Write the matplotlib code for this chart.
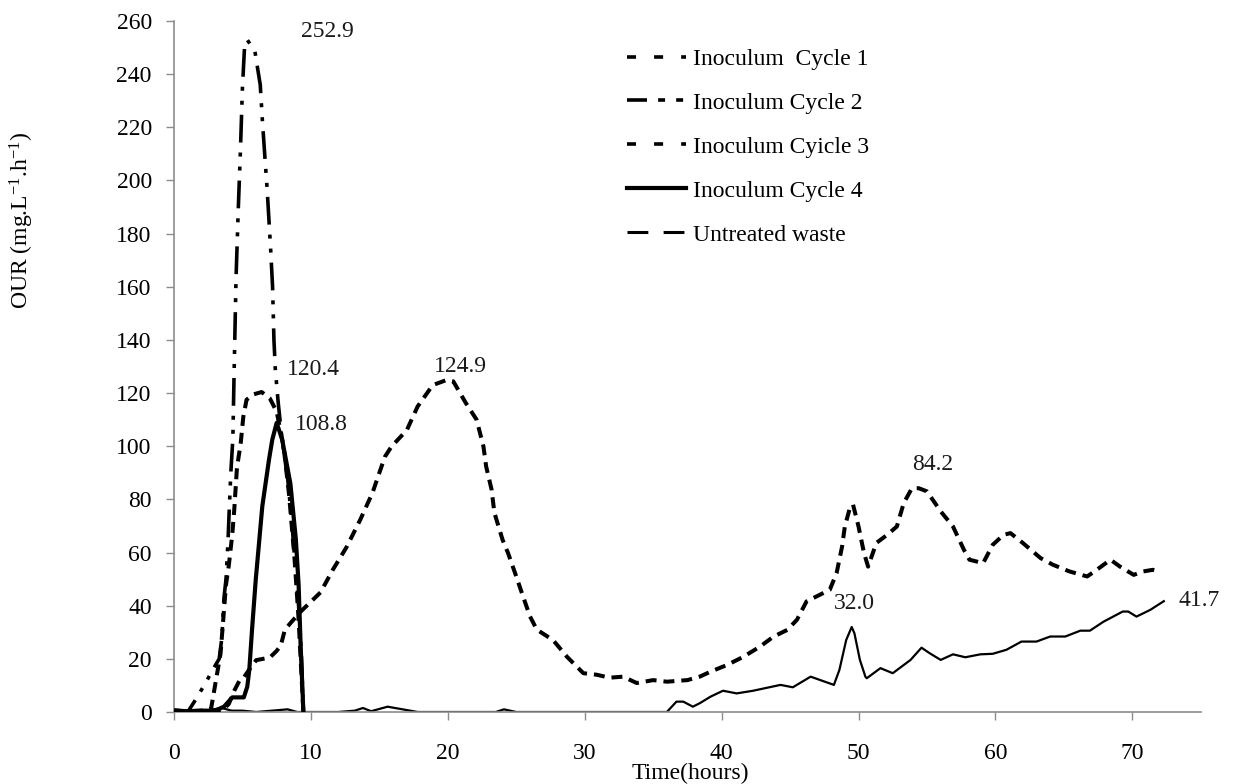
import matplotlib
matplotlib.use('Agg')
import matplotlib.pyplot as plt
from matplotlib.lines import Line2D

plt.rcParams['font.family'] = ['Liberation Serif', 'DejaVu Serif']
plt.rcParams['mathtext.fontset'] = 'custom'
plt.rcParams['mathtext.rm'] = 'Liberation Serif'
plt.rcParams['mathtext.it'] = 'Liberation Serif:italic'
plt.rcParams['lines.scale_dashes'] = False

# ---------------- data ----------------
c1_t = [0, 1.0, 2.0, 2.7, 3.0, 3.4, 3.6, 3.8, 4.0, 4.26, 4.4, 4.5, 4.6, 4.87, 5.06, 5.3,
        5.8, 6.4, 7.0, 7.5, 8.0, 8.4, 8.8, 9.1, 9.3, 9.45]
c1_y = [0.5, 0.3, 0.5, 1.0, 10, 22, 35, 48, 55, 67, 76, 84, 92, 101, 111, 117.5,
        119.5, 120.4, 118, 113, 100, 82, 58, 35, 15, 0]

c2_t = [0, 1.0, 1.5, 2.2, 2.9, 3.3, 3.5, 3.65, 3.8, 3.95, 4.05, 4.15, 4.3, 4.38, 4.53,
        4.7, 4.85, 5.0, 5.15, 5.35, 5.6, 5.9, 6.05, 6.3, 6.45, 6.65, 6.8, 7.05, 7.2,
        7.3, 7.4, 7.6, 7.9, 8.3, 8.6, 8.9, 9.1, 9.3, 9.45]
c2_y = [0.5, 0, 4, 10, 16.5, 20, 28, 43, 50, 65, 78, 90, 103, 125, 163,
        190, 211, 235, 250, 252.9, 251, 249, 244, 236, 223, 208, 197, 175, 160,
        140, 129, 117, 102, 88, 72, 52, 40, 22, 0]

c3_t = [0, 3.5, 4.0, 4.4, 4.8, 5.1, 5.5, 6.0, 6.5, 7.0, 7.5, 7.8, 8.1, 8.6, 9.2,
        10.7, 11.6, 12.6, 13.6, 14.5, 15.4, 15.9, 17.0, 17.8, 18.9, 19.9, 20.4,
        21.3, 22.1, 22.6, 22.8, 23.2, 23.4, 24.0, 24.4, 25.0, 25.5, 26.0, 26.5,
        27.7, 28.7, 29.9, 30.9, 31.8, 32.8, 33.8, 35.0, 36.0, 37.5, 38.4, 39.2,
        40.4, 41.6, 42.8, 43.8, 44.8, 45.5, 46.2, 46.9, 47.9, 48.4, 48.8, 49.0,
        49.4, 49.6, 50.0, 50.4, 50.7, 51.3, 52.1, 52.8, 53.3, 53.9, 54.4, 55.0,
        56.0, 56.9, 57.7, 58.1, 59.1, 59.8, 60.6, 61.1, 62.0, 63.3, 64.2, 65.4,
        66.7, 67.4, 68.4, 69.1, 70.1, 70.8, 71.5, 72.0]
c3_y = [0, 0.5, 3, 8, 12, 13, 16, 19.5, 20, 20.5, 23, 25, 31, 34, 37.5,
        45, 53.5, 62, 72.3, 82.5, 96, 100, 106, 115, 123, 124.9, 124.4,
        116.4, 110, 100, 92.4, 83.6, 75, 64.8, 59.8, 51, 43.4, 36, 31,
        27, 20.8, 14.6, 14, 12.9, 13.3, 10.9, 12, 11.4, 12, 13.3, 15.2,
        17.7, 20.8, 24.6, 28.4, 30.9, 34.7, 41.6, 43.4, 46, 52.3, 62.3, 69.8,
        77.4, 78, 69.8, 59.8, 54.7, 63.6, 66.7, 69.8, 78.6, 84.2, 84.2, 83,
        75.5, 69.8, 61, 57.3, 56, 62.9, 66.7, 67.3, 63.6, 57.9, 55.4, 52.9,
        51, 53.5, 57.3, 54.7, 51.6, 52.9, 53.5, 52.9]

c4_t = [0, 1.0, 2.0, 3.0, 3.65, 4.26, 5.1, 5.35, 5.5, 5.7, 5.97, 6.45, 6.94, 7.18,
        7.5, 7.9, 8.5, 8.9, 9.1, 9.25, 9.45]
c4_y = [0.5, 0.3, 0.5, 0.5, 2, 5.5, 5.5, 9.5, 15.8, 31, 49.7, 77.4, 95, 102.5,
        108.8, 102.5, 86, 65, 48, 25, 0]

uw_t = [0, 1.0, 2.0, 3.5, 4.2, 5.0, 6.0, 8.3, 9.0, 12.0, 13.2, 13.8, 14.4, 15.6,
        17.8, 23.5, 24.1, 25.0, 36.0, 36.7, 37.2, 37.9, 38.4, 39.2, 40.1, 41.1,
        42.3, 44.3, 45.2, 46.5, 48.2, 48.6, 49.1, 49.5, 49.7, 50.1, 50.5, 50.6,
        51.6, 52.5, 53.8, 54.6, 55.2, 56.0, 56.9, 57.8, 58.9, 59.8, 60.8, 61.9,
        63.0, 64.0, 65.1, 66.2, 66.9, 67.9, 69.3, 69.7, 70.3, 71.3, 72.3]
uw_y = [1.0, 0.5, 0.3, 1.5, 0.5, 0.5, 0, 1.0, 0, 0, 0.5, 1.5, 0.3, 2.0,
        0, 0, 1.0, 0, 0, 3.9, 3.9, 2.0, 3.3, 5.8, 8.0, 7.0,
        8.0, 10.2, 9.3, 13.3, 10.2, 15.8, 27.1, 32.0, 29.6, 19.6, 13.3, 12.7,
        16.5, 14.6, 19.6, 24.2, 22.1, 19.6, 21.7, 20.6, 21.7, 21.9, 23.4, 26.5,
        26.5, 28.4, 28.4, 30.6, 30.6, 34.0, 37.8, 37.8, 35.9, 38.4, 41.7]

series_labels = ["Inoculum  Cycle 1", "Inoculum Cycle 2", "Inoculum Cyicle 3",
                 "Inoculum Cycle 4", "Untreated waste"]

peak_labels = ["252.9", "120.4", "108.8", "124.9", "84.2", "32.0", "41.7"]
peak_pos = [(11.2, 256.0), (10.15, 129.0), (10.8, 108.0), (20.9, 130.0),
            (55.4, 93.0), (49.7, 41.0), (73.4, 41.8)]

x_ticks = [0, 10, 20, 30, 40, 50, 60, 70]
y_ticks = list(range(0, 261, 20))

# ---------------- figure ----------------
fig = plt.figure(figsize=(12.36, 7.84), dpi=100)
ax = fig.add_axes([174 / 1236, 72 / 784, 1026.8 / 1236, 691 / 784])

k = 'black'
ax.plot(uw_t, uw_y, color=k, lw=1.6, solid_joinstyle='round', zorder=2)
ax.plot(c3_t, c3_y, color=k, lw=2.9, dashes=(7.9, 5.0), zorder=3)
ax.plot(c1_t, c1_y, color=k, lw=2.9, dashes=(7.9, 5.0), zorder=3)
ax.plot(c2_t, c2_y, color=k, lw=2.6, dashes=(20, 7.2, 2.9, 7.2, 2.9, 7.2), zorder=4)
ax.plot(c4_t, c4_y, color=k, lw=3.0, solid_joinstyle='round', zorder=5)

for txt, (xx, yy) in zip(peak_labels, peak_pos):
    ha = 'left' if txt == "41.7" else 'center'
    ax.text(xx, yy, txt, fontsize=17, ha=ha, va='center', color='#1a1a1a')

ax.set_xlim(0, 75)
ax.set_ylim(0, 260)
ax.set_xticks(x_ticks)
ax.set_yticks(y_ticks)
ax.tick_params(axis='both', direction='out', length=6, width=1, color='#8c8c8c',
               labelsize=17, labelcolor='black')
ax.tick_params(axis='x', pad=16)
ax.tick_params(axis='y', pad=10)
for s in ['top', 'right']:
    ax.spines[s].set_visible(False)
for s in ['left', 'bottom']:
    ax.spines[s].set_color('#8c8c8c')
    ax.spines[s].set_linewidth(1.2)

fig.text(690 / 1236, 1 - 773 / 784, "Time(hours)", fontsize=17, ha='center', va='center')
fig.text(22 / 1236, 1 - 220 / 784, "OUR (mg.L$^{-1}$.h$^{-1}$)", fontsize=17,
         rotation=90, ha='center', va='center')

handles = [
    Line2D([], [], color=k, lw=2.6, dashes=(6.5, 13)),
    Line2D([], [], color=k, lw=2.6, dashes=(14.4, 8, 5, 8, 5, 8)),
    Line2D([], [], color=k, lw=2.6, dashes=(6.5, 13)),
    Line2D([], [], color=k, lw=3.0),
    Line2D([], [], color=k, lw=2.2, dashes=(15, 11)),
]
leg = fig.legend(handles, series_labels, loc='upper left',
                 bbox_to_anchor=(606 / 1236, 1 - 27 / 784), frameon=False,
                 fontsize=17, handlelength=2.5, handletextpad=0.3, labelspacing=0.95)

fig.savefig('out.png', dpi=100)
